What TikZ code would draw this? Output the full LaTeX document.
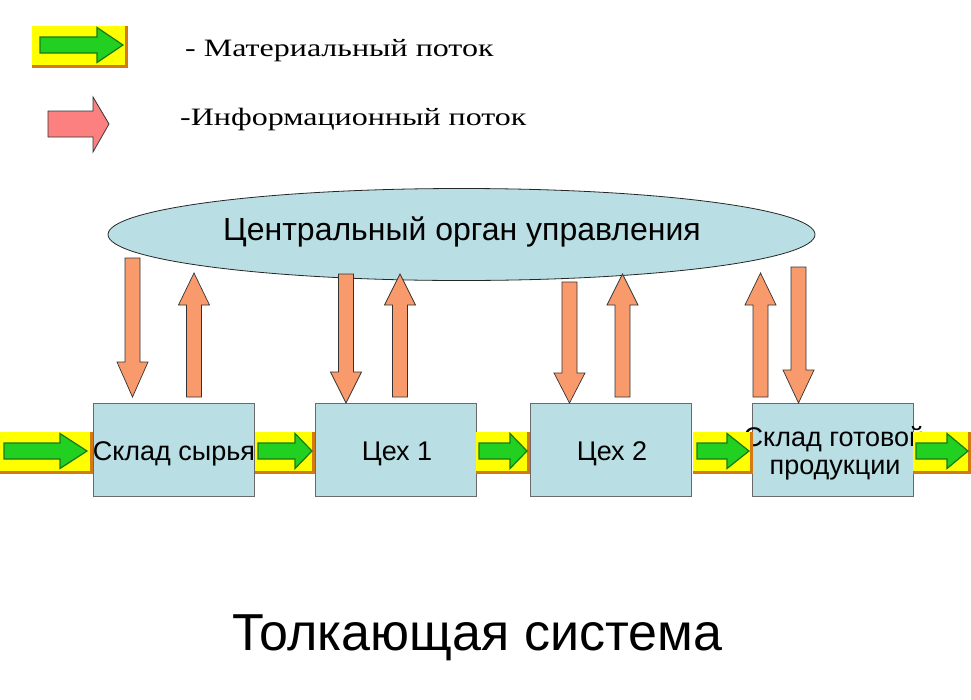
\documentclass[tikz,border=0pt]{standalone}
\usepackage{fontspec}
\setmainfont{Liberation Sans}
\newfontfamily\legendfont[FakeStretch=1.28]{Liberation Serif}
\usetikzlibrary{shapes.geometric,calc}
\definecolor{boxfill}{HTML}{B9DEE3}
\definecolor{boxline}{HTML}{6A6A6A}
\definecolor{infoor}{HTML}{F89A6C}
\definecolor{infopink}{HTML}{FC8080}
\definecolor{matyellow}{HTML}{FFFF00}
\definecolor{matorange}{HTML}{D47A10}
\definecolor{matgreen}{HTML}{22D022}
\definecolor{matdark}{HTML}{167A16}
\tikzset{
  stagebox/.style={draw=boxline, fill=boxfill, line width=0.9pt, minimum width=161pt, minimum height=93pt, inner sep=0pt},
  infoarrow/.style={draw=black!80, fill=infoor, line width=0.7pt, line join=miter},
  greenarrow/.style={draw=matdark, fill=matgreen, line width=1.2pt, line join=miter},
  boxtext/.style={anchor=base, inner sep=0pt, font=\fontsize{27}{31}\selectfont},
  legendtext/.style={anchor=base west, inner sep=0pt, font=\legendfont\fontsize{25}{29}\selectfont},
}
% vertical info arrow: centre x, start y, head base y, tip y
\newcommand\InfoArrow[4]{%
  \draw[infoarrow] ({#1-7.5},#2) -- ({#1+7.5},#2) -- ({#1+7.5},#3) -- ({#1+15.5},#3)
    -- (#1,#4) -- ({#1-15.5},#3) -- ({#1-7.5},#3) -- cycle;}
% material arrow: x1, x2, centre y, shaft start, head base, tip
\newcommand\MatArrow[6]{%
  \fill[matyellow] (#1,{#3-19.5}) rectangle (#2,{#3+19.5});
  \fill[matorange] (#1,{#3+19.5}) rectangle (#2,{#3+22.5});
  \fill[matorange] ({#2-3},{#3-19.5}) rectangle (#2,{#3+22.5});
  \draw[greenarrow] (#4,{#3-8}) -- (#5,{#3-8}) -- (#5,{#3-17.5}) -- (#6,#3)
    -- (#5,{#3+17.5}) -- (#5,{#3+8}) -- (#4,{#3+8}) -- cycle;}
\begin{document}
\begin{tikzpicture}[x=1pt,y=-1pt]
\useasboundingbox[fill=white] (0,0) rectangle (971,699);

% legend
\MatArrow{32}{128}{45}{40}{97}{123}
\draw[draw=black!80, fill=infopink, line width=0.8pt, line join=miter]
  (48,111) -- (93,111) -- (93,97) -- (109,124) -- (93,152) -- (93,137) -- (48,137) -- cycle;
\node[legendtext] (legmat) at (185,56) {- Материальный поток};
\node[legendtext] (leginf) at (180,125) {-Информационный поток};

% central body
\node[ellipse, draw=black!85, fill=boxfill, line width=0.8pt, minimum width=707pt, minimum height=92pt, inner sep=0pt] (center) at (461.5,234.5) {};
\node[anchor=base, inner sep=0pt, font=\fontsize{32}{36}\selectfont] (centertext) at (462,240) {Центральный орган управления};

% stages
\node[stagebox] (b1) at (174,450) {};
\node[stagebox] (b2) at (395.5,450) {};
\node[stagebox] (b3) at (610.5,450) {};
\node[stagebox] (b4) at (833,450) {};
\node[boxtext] (t1) at (174,460) {Склад сырья};
\node[boxtext] (t2) at (397,460) {Цех 1};
\node[boxtext] (t3) at (612,460) {Цех 2};
\node[boxtext] (t4a) at (834,446) {Склад готовой};
\node[boxtext] (t4b) at (835,474) {продукции};

% information flows
\InfoArrow{132.5}{258}{362}{397}
\InfoArrow{194}{397}{305}{273}
\InfoArrow{346}{274}{372}{403}
\InfoArrow{400}{397}{305}{274}
\InfoArrow{569.5}{282}{373}{403}
\InfoArrow{622.5}{397}{305}{274}
\InfoArrow{760.5}{397}{305}{273}
\InfoArrow{798.5}{267}{370}{403}

% material flows
\MatArrow{0}{93}{451}{4}{60}{87}
\MatArrow{255}{315}{451}{258}{295}{312}
\MatArrow{476}{530}{451}{479}{510}{527}
\MatArrow{693}{753}{451}{697}{727}{749}
\MatArrow{913}{971}{451}{916}{947}{968}

% title
\node[anchor=base, inner sep=0pt, font=\fontsize{52}{58}\selectfont] (title) at (477,650) {Толкающая система};
\end{tikzpicture}
\end{document}
